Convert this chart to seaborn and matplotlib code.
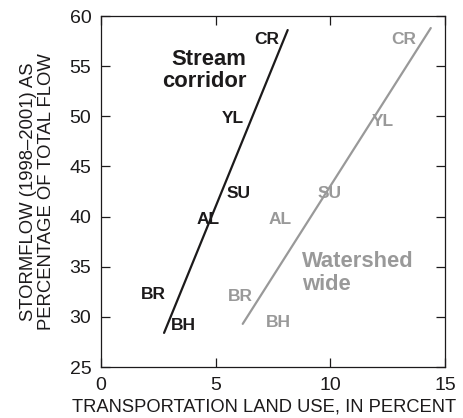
import matplotlib
matplotlib.use("Agg")
import matplotlib.pyplot as plt
import seaborn as sns
import pandas as pd

# ---- data ----
sites = ["CR", "YL", "SU", "AL", "BR", "BH"]
stream_label_x = [7.22, 5.74, 6.02, 4.68, 2.28, 3.59]
stream_label_y = [57.7, 49.8, 42.3, 39.7, 32.2, 29.1]
watershed_label_x = [13.18, 12.31, 9.96, 7.81, 6.06, 7.73]
watershed_label_y = [57.7, 49.5, 42.3, 39.7, 32.0, 29.4]

stream_line_x = [2.75, 8.14]
stream_line_y = [28.4, 58.6]
watershed_line_x = [6.18, 14.38]
watershed_line_y = [29.3, 58.8]

group_names = ["Stream\ncorridor", "Watershed\nwide"]
group_label_x = [6.35, 8.75]
group_label_y = [54.55, 34.35]

xticks = [0, 5, 10, 15]
yticks = [25, 30, 35, 40, 45, 50, 55, 60]

BLACK = "#1c1a1b"
GREY = "#999999"

sns.set_style("ticks")
plt.rcParams["font.family"] = ["Liberation Sans", "DejaVu Sans"]

fig = plt.figure(figsize=(4.63, 4.18), dpi=100)
ax = fig.add_axes([101 / 463, 51 / 418, 344 / 463, 351 / 418])

lines = pd.concat([
    pd.DataFrame({"x": stream_line_x, "y": stream_line_y, "g": "stream"}),
    pd.DataFrame({"x": watershed_line_x, "y": watershed_line_y, "g": "watershed"}),
])
sns.lineplot(data=lines, x="x", y="y", hue="g", palette={"stream": BLACK, "watershed": GREY},
             linewidth=1.6, legend=False, ax=ax)

for s, x, y in zip(sites, stream_label_x, stream_label_y):
    ax.text(x, y, s, color=BLACK, fontsize=12.5, fontweight="bold", ha="center", va="center")
for s, x, y in zip(sites, watershed_label_x, watershed_label_y):
    ax.text(x, y, s, color=GREY, fontsize=12.5, fontweight="bold", ha="center", va="center")

ax.text(group_label_x[0], group_label_y[0], group_names[0], color=BLACK, fontsize=15.8,
        fontweight="bold", ha="right", va="center", linespacing=1.1)
ax.text(group_label_x[1], group_label_y[1], group_names[1], color=GREY, fontsize=15.8,
        fontweight="bold", ha="left", va="center", linespacing=1.1)

ax.set_xlim(0, 15)
ax.set_ylim(25, 60)
ax.set_xticks(xticks)
ax.set_yticks(yticks)
ax.tick_params(direction="in", length=6.5, width=0.9, top=True, right=True,
               labelsize=14, colors=BLACK, pad=7)
for sp in ax.spines.values():
    sp.set_visible(True)
    sp.set_linewidth(0.9)
    sp.set_color(BLACK)

ax.set_xlabel("TRANSPORTATION LAND USE, IN PERCENT", fontsize=13.2, color=BLACK)
ax.set_ylabel("STORMFLOW (1998\u20132001) AS\nPERCENTAGE OF TOTAL FLOW", fontsize=13.3,
              color=BLACK, linespacing=1.05)
ax.xaxis.set_label_coords(0.474, -0.09)
ax.yaxis.set_label_coords(-0.135, 0.5)

fig.savefig("out.png", dpi=100)
